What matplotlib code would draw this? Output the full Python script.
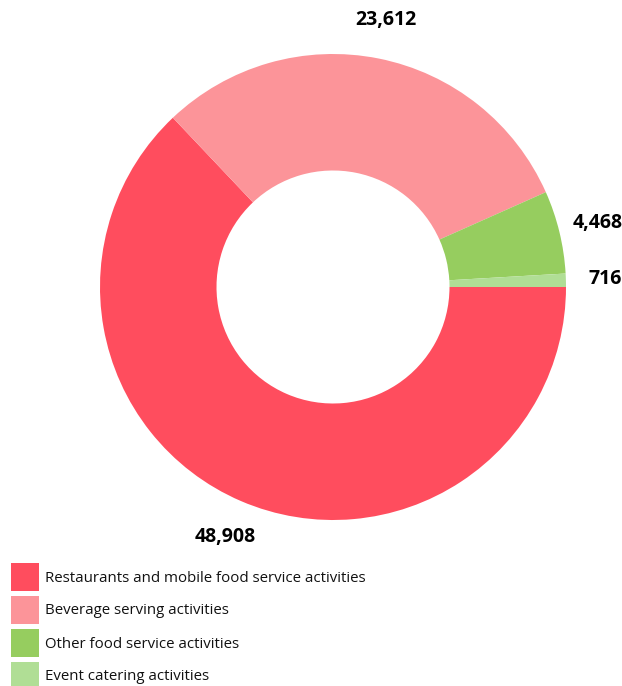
import matplotlib
matplotlib.use("Agg")
import matplotlib.pyplot as plt
from matplotlib.patches import Rectangle

categories = ["Restaurants and mobile food service activities",
              "Beverage serving activities",
              "Other food service activities",
              "Event catering activities"]
values = [48908, 23612, 4468, 716]
colors = ["#FF4D5E", "#FC9499", "#96CD5F", "#B0DE95"]

plt.rcParams['font.family'] = ['Open Sans', 'DejaVu Sans']

W, H = 622, 686
fig = plt.figure(figsize=(W / 100, H / 100), dpi=100)

# pie centre (333, 287) px, radius 233 px
cx, cy, r = 333, 287, 233
ax = fig.add_axes([(cx - r) / W, (H - cy - r) / H, 2 * r / W, 2 * r / H])

wedges, texts = ax.pie(values, colors=colors, startangle=0, counterclock=False,
                       radius=1.0, wedgeprops=dict(width=0.5, linewidth=0),
                       labels=[f"{v:,}" for v in values], labeldistance=1.17,
                       textprops=dict(fontsize=14, fontweight='bold', color='black'))
for t in texts:
    t.set_horizontalalignment('center')
    t.set_verticalalignment('center')
ax.set_xlim(-1, 1)
ax.set_ylim(-1, 1)
ax.set_aspect('equal')
ax.axis('off')

# legend
box = 28
pitch = 33
x0 = 11
y_top = 563
for i, (lab, col) in enumerate(zip(categories, colors)):
    y = y_top + i * pitch
    fig.patches.append(Rectangle((x0 / W, 1 - (y + box) / H), box / W, box / H,
                                 transform=fig.transFigure, facecolor=col,
                                 edgecolor='none'))
    fig.text(45 / W, 1 - (y + box / 2 + 1) / H, lab, fontsize=10.8,
             color='#111111', ha='left', va='center')

fig.savefig("out.png", dpi=100)
